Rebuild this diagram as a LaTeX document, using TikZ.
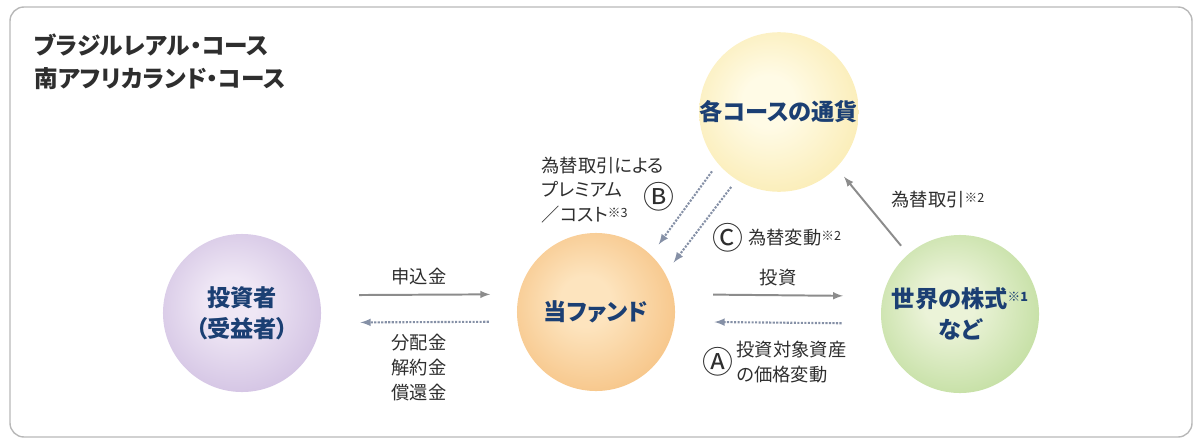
\documentclass[tikz,border=0pt]{standalone}
\usepackage{fontspec}
\setmainfont{Noto Sans CJK JP}[RawFeature=+palt]
\usetikzlibrary{arrows, positioning}

\definecolor{inkblue}{HTML}{1B3F73}
\definecolor{inkgrey}{HTML}{2E2E2E}
\definecolor{flowgrey}{HTML}{8C8C8C}
\definecolor{fxgrey}{HTML}{8590A6}
\definecolor{framegrey}{HTML}{B8B8B8}

\definecolor{purplein}{HTML}{EFE7F5}
\definecolor{purpleout}{HTML}{B69ED1}
\definecolor{orangein}{HTML}{FDE4BE}
\definecolor{orangeout}{HTML}{F0A652}
\definecolor{yellowin}{HTML}{FFFBE6}
\definecolor{yellowout}{HTML}{F6DE86}
\definecolor{greenin}{HTML}{EBF3D8}
\definecolor{greenout}{HTML}{9DCB6E}

\pgfdeclareradialshading{orbpurple}{\pgfpoint{-4bp}{4bp}}{color(0bp)=(purplein); color(8bp)=(purplein); color(50bp)=(purpleout)}
\pgfdeclareradialshading{orborange}{\pgfpoint{-4bp}{4bp}}{color(0bp)=(orangein); color(8bp)=(orangein); color(50bp)=(orangeout)}
\pgfdeclareradialshading{orbyellow}{\pgfpoint{-4bp}{4bp}}{color(0bp)=(yellowin); color(8bp)=(yellowin); color(50bp)=(yellowout)}
\pgfdeclareradialshading{orbgreen}{\pgfpoint{-4bp}{4bp}}{color(0bp)=(greenin); color(8bp)=(greenin); color(50bp)=(greenout)}

\newcommand{\kome}[1]{\raisebox{0.45ex}{\fontsize{9}{9}\selectfont ※#1}}

\begin{document}
\begin{tikzpicture}[> = latex, x = 0.025cm, y = -0.025cm,
	orb/.style = {circle, shade, minimum size = 3.95cm, inner sep = 0pt, outer sep = 0pt,
		align = center, text = inkblue, font = \fontsize{16.5}{22}\selectfont\bfseries},
	lbl/.style = {text = inkgrey, inner sep = 1pt, font = \fontsize{13}{17.5}\selectfont},
	letter/.style = {text = inkgrey, inner sep = 0pt, font = \fontsize{22}{22}\selectfont},
	flow/.style = {->, flowgrey, line width = 1.4pt},
	fx/.style = {->, fxgrey, densely dotted, line width = 1.5pt}]

	\useasboundingbox (0, 0) rectangle (1200, 440);

	% Frame and course names

	\draw [framegrey, line width = 1pt, rounded corners = 0.35cm] (10, 7) rectangle (1192, 437);

	\node [anchor = north west, align = left, inner sep = 0pt, text = inkgrey,
		font = \fontsize{16.8}{23.5}\selectfont\bfseries] (course) at (34, 34)
		{ブラジルレアル・コース\\南アフリカランド・コース};

	% The four parties

	\node [orb, shading = orbpurple] (inv) at (242, 313) {投資者\\（受益者）};
	\node [orb, shading = orborange] (fund) at (596, 312) {当ファンド};
	\node [orb, shading = orbyellow] (cur) at (779, 112) {各コースの通貨};
	\node [orb, shading = orbgreen] (stock) at (960, 314) {世界の株式\kome{1}\\など};

	% Investor <-> fund

	\draw [flow, shorten < = 1cm, shorten > = 0.72cm] (inv.13) -- node [lbl, above = 5pt] (pay) {申込金} (fund.167);
	\draw [fx, shorten < = 0.72cm, shorten > = 1cm] (fund.-173) -- node [lbl, below = 7pt, align = center] (back) {分配金\\解約金\\償還金} (inv.-7);

	% Fund <-> stocks

	\draw [flow, shorten < = 1cm, shorten > = 1cm] (fund.13) -- node [lbl, above = 5pt] (invest) {投資} (stock.167);
	\draw [fx, shorten < = 1cm, shorten > = 1cm] (stock.-173) -- (fund.-7);

	\node [lbl, anchor = west, align = left] (alab) at (735, 362) {投資対象資産\\の価格変動};
	\node [letter, left = 1pt of alab] (amark) {Ⓐ};

	% Currency exchange

	\draw [flow, shorten < = 0.28cm, shorten > = 0.3cm] (stock.131) -- (cur.316);
	\node [lbl] (fxdeal) at (938, 200) {為替取引\kome{2}};

	\draw [fx, shorten < = 0.25cm, shorten > = 0.33cm] (cur.220) -- (fund.46);
	\draw [fx, shorten < = 0.23cm, shorten > = 0.35cm] (cur.238) -- (fund.29);

	\node [lbl, anchor = west, align = left] (blab) at (540, 190) {為替取引による\\プレミアム\\／コスト\kome{3}};
	\node [letter] (bmark) at (659, 197) {Ⓑ};

	\node [letter] (cmark) at (728, 238) {Ⓒ};
	\node [lbl, right = 2pt of cmark] (clab) {為替変動\kome{2}};

\end{tikzpicture}
\end{document}
